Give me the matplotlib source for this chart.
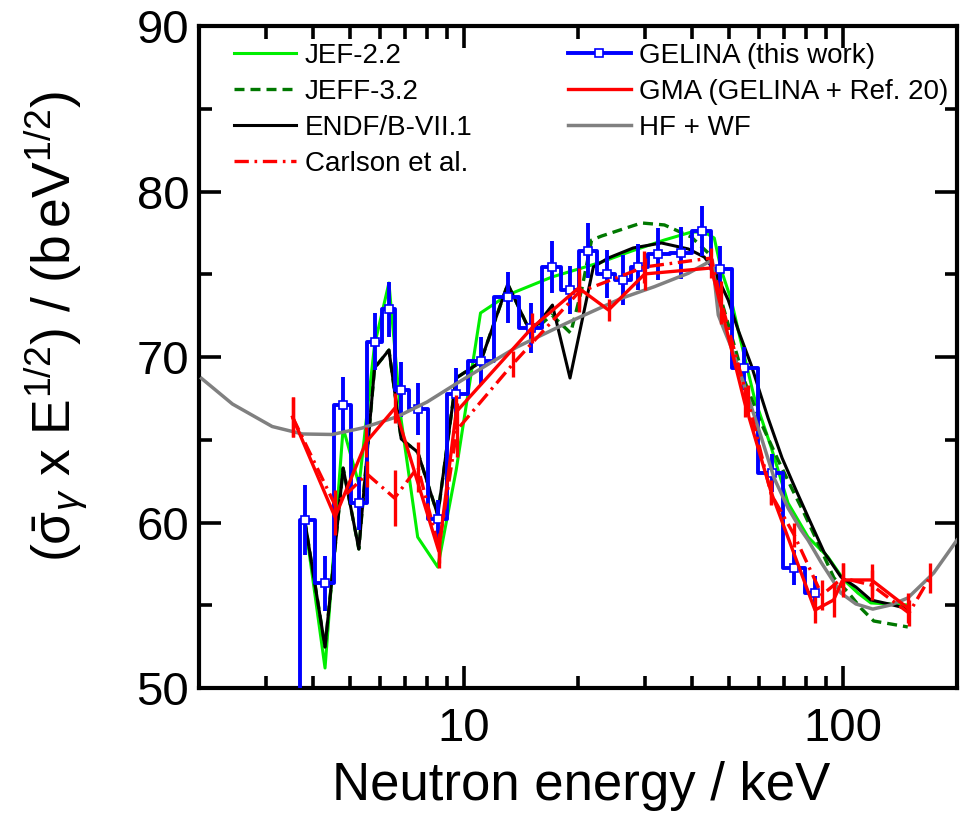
import numpy as np
import matplotlib
matplotlib.use('Agg')
import matplotlib.pyplot as plt
from matplotlib import font_manager
from matplotlib.lines import Line2D
from matplotlib.ticker import FixedLocator, MultipleLocator, NullFormatter, FixedFormatter


def pick_font(names):
    # first family that is really installed
    for name in names:
        try:
            font_manager.findfont(name, fallback_to_default=False)
            return name
        except ValueError:
            continue
    return 'DejaVu Sans'


FONT = pick_font(['Liberation Sans', 'Arial'])
plt.rcParams['font.family'] = [FONT, 'DejaVu Sans']
plt.rcParams['mathtext.fontset'] = 'custom'
plt.rcParams['mathtext.rm'] = FONT
plt.rcParams['mathtext.it'] = FONT + ':italic'

# GELINA (this work): bin-averaged points
gelina_e = [3.80, 4.30, 4.80, 5.28, 5.81, 6.34, 6.83, 7.55, 8.53, 9.54, 11.06, 13.05,
            15.01, 17.12, 19.05, 21.29, 23.79, 26.32, 28.79, 32.54, 37.48, 42.43, 47.53,
            54.8, 64.8, 74.4, 84.6]
gelina_v = [60.15, 56.33, 67.10, 61.16, 70.92, 72.88, 68.01, 66.84, 60.19, 67.78, 69.76,
            73.60, 71.77, 75.42, 74.05, 76.42, 75.00, 74.65, 75.44, 76.21, 76.28, 77.61,
            75.29, 69.32, 63.01, 57.28, 55.77]
gelina_err = [2.11, 1.66, 1.69, 1.59, 1.71, 1.66, 1.66, 1.56, 1.16, 1.58, 1.46, 1.55,
              1.51, 1.56, 1.46, 1.66, 1.46, 1.51, 1.41, 1.58, 1.58, 1.53, 1.43, 1.31,
              1.16, 1.06, 0.97]

# GMA (GELINA + Ref. 20)
gma_e = [3.53, 4.57, 5.52, 6.58, 8.58, 9.54, 15.10, 20.07, 24.07, 30.00, 44.94, 55.0,
         64.64, 84.4, 94.5, 99.8, 119.0, 148.5]
gma_v = [66.37, 60.33, 64.86, 66.92, 58.28, 66.68, 71.75, 74.17, 72.84, 75.02, 75.38,
         67.28, 61.84, 54.71, 55.32, 56.53, 56.53, 54.83]
gma_err = [1.21, 1.09, 0.91, 0.91, 1.03, 1.03, 0.91, 1.21, 0.66, 0.97, 0.60, 0.91, 0.73,
           0.79, 1.03, 1.03, 0.97, 0.91]

# Carlson et al.
carlson_e = [3.53, 4.57, 5.55, 6.56, 7.56, 8.58, 9.58, 13.46, 20.07, 29.95, 44.94, 47.75,
             56.13, 64.64, 74.4, 88.0, 99.8, 119.0, 149.4, 169.3]
carlson_v = [66.37, 61.06, 62.93, 61.48, 63.35, 58.46, 65.59, 69.58, 73.90, 75.44, 75.98,
             73.32, 67.40, 61.72, 59.24, 55.62, 56.65, 56.22, 54.53, 56.65]
carlson_err = [1.21, 0.90, 0.80, 1.69, 1.51, 0.90, 1.63, 0.80, 1.20, 0.97, 0.60, 1.30,
               0.91, 0.66, 0.72, 0.90, 0.90, 0.90, 0.80, 0.90]

# JEF-2.2
jef_e = [3.80, 4.30, 4.80, 5.29, 5.81, 6.34, 6.83, 7.55, 8.53, 9.54, 11.06, 13.05, 17.05,
         23.08, 27.68, 33.8, 39.81, 43.08, 45.76, 47.75, 50.73, 52.92, 58.32, 64.64, 71.65,
         80.89, 91.3, 100.6, 109.5, 118.5, 148.3]
jef_v = [60.15, 51.21, 65.71, 62.27, 70.73, 74.47, 66.19, 59.12, 57.31, 63.17, 72.66,
         73.75, 74.83, 75.74, 76.40, 77.07, 77.55, 77.55, 77.19, 75.26, 73.44, 71.63,
         67.58, 64.56, 61.18, 59.12, 57.92, 56.53, 55.74, 55.14, 55.02]

# ENDF/B-VII.1
endf_e = [3.80, 4.30, 4.80, 5.28, 5.81, 6.34, 6.83, 7.55, 8.53, 9.54, 11.06, 13.05, 15.01,
          17.12, 19.05, 21.95, 24.03, 27.97, 33.20, 39.09, 43.08, 45.76, 49.82, 52.92,
          57.27, 63.47, 69.10, 75.20, 81.38, 89.13, 98.79, 108.2, 118.5, 132.2, 149.2]
endf_v = [60.15, 52.48, 63.29, 58.40, 69.34, 70.42, 65.05, 64.26, 60.45, 68.73, 69.70,
          74.41, 71.45, 73.14, 68.73, 75.44, 75.98, 76.59, 76.89, 76.53, 76.04, 75.26,
          73.44, 71.63, 69.52, 66.31, 63.90, 61.96, 60.21, 58.22, 56.71, 56.10, 55.32,
          55.08, 54.77]

# JEFF-3.2
jeff_e = [3.80, 4.30, 4.80, 5.28, 5.81, 6.34, 6.83, 7.55, 8.53, 9.54, 11.06, 13.05, 15.01,
          17.05, 19.12, 20.44, 21.72, 23.08, 29.41, 33.8, 39.81, 44.13, 47.75, 54.9, 60.84,
          67.43, 72.97, 78.96, 85.96, 94.7, 103.1, 111.5, 120.6, 148.3]
jeff_v = [60.15, 52.48, 63.29, 58.40, 69.34, 70.42, 65.05, 64.26, 60.45, 68.73, 69.70,
          74.41, 71.45, 72.54, 71.45, 74.05, 77.07, 77.31, 78.10, 77.98, 77.25, 76.28,
          73.44, 68.61, 66.01, 63.78, 62.15, 60.57, 58.76, 56.65, 55.80, 54.83, 54.05,
          53.69]

# HF + WF
hf_e = [2.03, 2.45, 3.12, 3.75, 4.49, 5.39, 6.66, 7.99, 9.58, 11.50, 13.79, 18.67, 26.05,
        31.81, 39.09, 45.22, 46.90, 48.62, 50.73, 53.24, 56.23, 60.84, 65.82, 71.65, 77.52,
        80.89, 87.51, 98.79, 108.2, 119.9, 133.8, 148.3, 173.6, 200.0]
hf_v = [68.71, 67.16, 65.80, 65.35, 65.32, 65.71, 66.39, 67.28, 68.41, 69.52, 70.60, 72.05,
        73.55, 74.25, 75.06, 75.86, 72.54, 71.63, 70.60, 69.21, 67.58, 65.17, 62.69, 60.88,
        59.55, 58.94, 57.61, 55.74, 55.08, 54.77, 55.02, 55.44, 56.95, 58.94]

x_ticks = [10, 100]
y_ticks = [50, 60, 70, 80, 90]

BLUE = '#0000ff'
RED = '#ff0000'
GREEN = '#00ee00'
DKGREEN = '#007800'
GRAY = '#808080'

fig = plt.figure(figsize=(9.70, 8.23), dpi=100)
ax = fig.add_axes([0.2052, 0.1640, 0.7814, 0.8044])
ax.set_xscale('log')

# evaluations
ax.plot(jef_e, jef_v, color=GREEN, lw=2.2, zorder=2)
ax.plot(jeff_e, jeff_v, color=DKGREEN, lw=2.4, ls=(0, (3.0, 1.8)), zorder=2.1)
ax.plot(endf_e, endf_v, color='black', lw=2.2, zorder=2.2)

# GELINA histogram: steps halfway between points, open at the bottom on the left
e = np.array(gelina_e)
v = np.array(gelina_v)
edges = np.concatenate([[e[0] * (e[0] / e[1]) ** 0.25], np.sqrt(e[:-1] * e[1:]), [e[-1]]])
step_x = np.repeat(edges, 2)[:-1]
step_y = np.concatenate([[0.0], np.repeat(v, 2)])
ax.plot(step_x, step_y, color=BLUE, lw=2.8, zorder=3)
ax.errorbar(gelina_e, gelina_v, yerr=gelina_err, fmt='none', ecolor=BLUE, elinewidth=2.8,
            capsize=0, zorder=3.1)
ax.plot(gelina_e, gelina_v, ls='none', marker='s', ms=5.5, mfc='white', mec=BLUE, mew=1.2,
        zorder=3.2)

ax.plot(hf_e, hf_v, color=GRAY, lw=2.5, zorder=3.5)

ax.errorbar(carlson_e, carlson_v, yerr=carlson_err, color=RED, lw=2.4,
            ls=(0, (4.3, 1.7, 0.8, 1.7)), elinewidth=2.4, capsize=0, zorder=4)
ax.errorbar(gma_e, gma_v, yerr=gma_err, color=RED, lw=2.4, elinewidth=2.4, capsize=0,
            zorder=4.5)

ax.set_xlim(2, 200)
ax.set_ylim(50, 90)

ax.xaxis.set_major_locator(FixedLocator(x_ticks))
ax.xaxis.set_major_formatter(FixedFormatter([str(t) for t in x_ticks]))
minor_x = [m * 10 ** d for d in range(0, 3) for m in range(2, 10)]
ax.xaxis.set_minor_locator(FixedLocator(minor_x))
ax.xaxis.set_minor_formatter(NullFormatter())
ax.yaxis.set_major_locator(FixedLocator(y_ticks))
ax.yaxis.set_minor_locator(MultipleLocator(5))

for s in ax.spines.values():
    s.set_linewidth(3.0)
ax.tick_params(which='both', direction='in', top=True, right=True, width=2.6)
ax.tick_params(which='major', length=16)
ax.tick_params(which='minor', length=9)
ax.tick_params(axis='y', which='major', labelsize=34, pad=7)
ax.tick_params(axis='x', which='major', labelsize=34, pad=14)

fig.text(581 / 970, 1 - 786 / 823, 'Neutron energy / keV', fontsize=38,
         ha='center', va='center')
fig.text(56 / 970, 1 - 327 / 823,
         r'$(\bar{\mathrm{\sigma}}_{\gamma}\ \mathrm{x\ E}^{1/2})\ /\ (\mathrm{b\,eV}^{1/2})$',
         fontsize=38.5, rotation=90, ha='center', va='center')

left_handles = [
    Line2D([], [], color=GREEN, lw=2.2),
    Line2D([], [], color=DKGREEN, lw=2.4, ls=(0, (3.0, 1.8))),
    Line2D([], [], color='black', lw=2.2),
    Line2D([], [], color=RED, lw=2.4, ls=(0, (4.3, 1.7, 0.8, 1.7))),
]
left_labels = ['JEF-2.2', 'JEFF-3.2', 'ENDF/B-VII.1', 'Carlson et al.']
right_handles = [
    Line2D([], [], color=BLUE, lw=2.8, marker='s', ms=5.5, mfc='white', mec=BLUE, mew=1.2),
    Line2D([], [], color=RED, lw=2.4),
    Line2D([], [], color=GRAY, lw=2.5),
]
right_labels = ['GELINA (this work)', 'GMA (GELINA + Ref. 20)', 'HF + WF']

leg_kw = dict(frameon=False, fontsize=20, borderpad=0, borderaxespad=0,
              handlelength=2.25, handletextpad=0.3, labelspacing=0.36, loc='upper left')
leg1 = ax.legend(left_handles, left_labels, bbox_to_anchor=(0.046, 0.975), **leg_kw)
ax.add_artist(leg1)
ax.legend(right_handles, right_labels, bbox_to_anchor=(0.487, 0.975), **leg_kw)

fig.savefig('out.png', dpi=100)
